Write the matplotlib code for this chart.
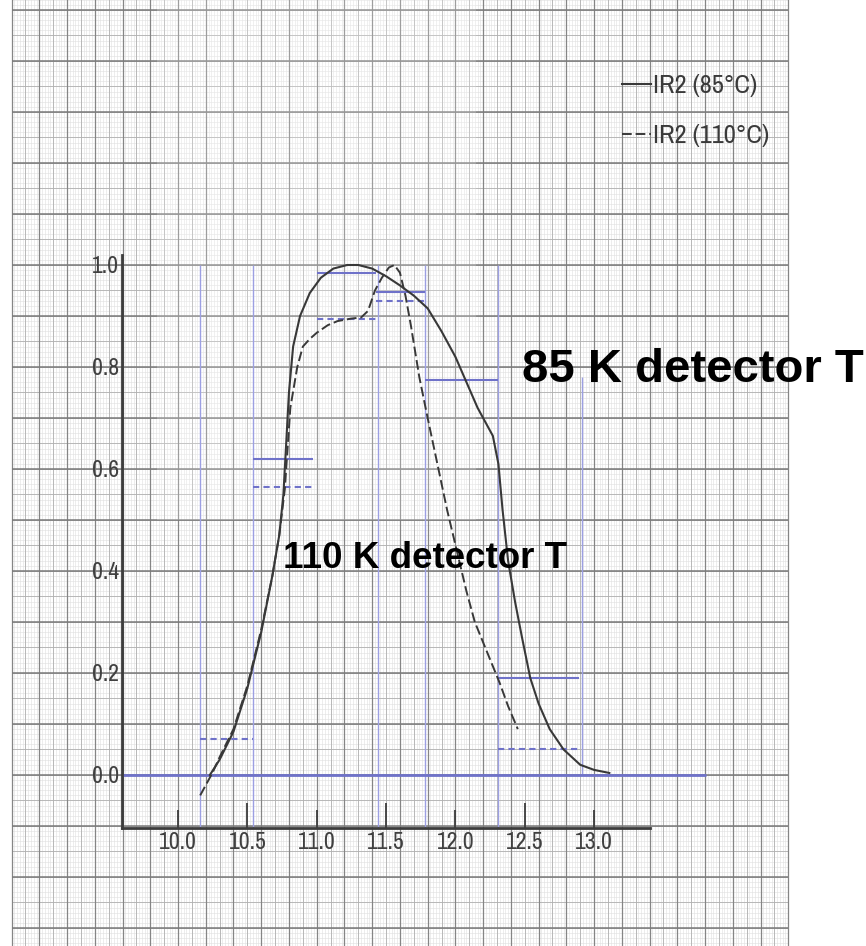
import matplotlib
matplotlib.use("Agg")
import matplotlib.pyplot as plt
import numpy as np
from matplotlib import font_manager
from matplotlib.font_manager import FontProperties
from matplotlib.patches import Rectangle

# ---------------- data ----------------
solid_x = [10.23, 10.30, 10.40, 10.50, 10.60, 10.68, 10.73, 10.76, 10.78, 10.80,
           10.83, 10.88, 10.95, 11.03, 11.12, 11.22, 11.30, 11.40, 11.50, 11.60,
           11.70, 11.80, 11.90, 12.00, 12.08, 12.16, 12.22, 12.27, 12.31, 12.34,
           12.38, 12.43, 12.48, 12.54, 12.60, 12.68, 12.78, 12.90, 13.00, 13.11]
solid_y = [0.00, 0.03, 0.085, 0.17, 0.28, 0.39, 0.47, 0.55, 0.65, 0.75,
           0.84, 0.90, 0.945, 0.975, 0.993, 1.0, 1.0, 0.993, 0.978, 0.96,
           0.94, 0.915, 0.87, 0.82, 0.77, 0.72, 0.69, 0.665, 0.61, 0.52,
           0.42, 0.34, 0.27, 0.19, 0.14, 0.09, 0.05, 0.02, 0.01, 0.004]

dashed_x = [10.16, 10.20, 10.25, 10.30, 10.40, 10.50, 10.60, 10.68, 10.73, 10.77,
            10.79, 10.81, 10.86, 10.90, 10.95, 11.00, 11.08, 11.15, 11.25, 11.32,
            11.37, 11.42, 11.47, 11.52, 11.56, 11.60, 11.64, 11.68, 11.74, 11.80,
            11.87, 11.94, 12.01, 12.08, 12.14, 12.20, 12.26, 12.32, 12.38, 12.45]
dashed_y = [-0.04, -0.02, 0.005, 0.035, 0.09, 0.175, 0.285, 0.39, 0.47, 0.56,
            0.64, 0.72, 0.80, 0.84, 0.855, 0.867, 0.882, 0.89, 0.895, 0.897,
            0.91, 0.95, 0.975, 0.995, 1.0, 0.985, 0.94, 0.88, 0.78, 0.70,
            0.61, 0.52, 0.44, 0.36, 0.30, 0.26, 0.22, 0.18, 0.135, 0.09]

band_left = [10.16, 10.54, 11.00, 11.43, 11.78, 12.31]
band_right = [10.54, 10.97, 11.43, 11.78, 12.31, 12.89]
band_solid = [np.nan, 0.62, 0.985, 0.947, 0.775, 0.19]
band_dashed = [0.07, 0.565, 0.895, 0.93, np.nan, 0.05]
band_edges = [10.16, 10.54, 11.44, 11.78, 12.31]

xtick_major = [10.5, 11.5, 12.5]
xtick_major_labels = ["10.5", "11.5", "12.5"]
xtick_minor = [10.0, 11.0, 12.0, 13.0]
xtick_minor_labels = ["10.0", "11.0", "12.0", "13.0"]
ytick_vals = [0.0, 0.2, 0.4, 0.6, 0.8, 1.0]
ytick_labels = ["0.0", "0.2", "0.4", "0.6", "0.8", "1.0"]

legend_labels = ["IR2 (85°C)", "IR2 (110°C)"]
note_85 = "85 K detector T"
note_110 = "110 K detector T"

# ---------------- fonts ----------------
narrow_path = None
for pref in ["Narrow", "Condensed"]:
    for f in font_manager.fontManager.ttflist:
        fn = f.fname
        if pref in fn and f.style == "normal" and f.weight in (400, "normal", "regular") \
                and "Bold" not in fn and "Oblique" not in fn and "Italic" not in fn:
            narrow_path = fn
            break
    if narrow_path:
        break


def hand_font(size):
    if narrow_path:
        return FontProperties(fname=narrow_path, size=size)
    return FontProperties(family="DejaVu Sans", size=size * 0.85)


# ---------------- figure ----------------
fig = plt.figure(figsize=(8.66, 9.46), dpi=100)
ax = fig.add_axes([0, 0, 1, 1])
ax.set_xlim(8.7167, 14.9604)
ax.set_ylim(-0.3353, 1.5196)
ax.set_facecolor("white")

# graph paper
gx0, gx1 = 8.80, 14.40
ylo, yhi = -0.34, 1.53
ax.vlines(np.arange(gx0, gx1 + 1e-6, 0.02), ylo, yhi, color="#e0e0e0", lw=0.4, zorder=0.3)
ax.hlines(np.arange(-0.34, 1.53, 0.01), gx0, gx1, color="#e0e0e0", lw=0.4, zorder=0.3)
ax.vlines(np.arange(gx0, gx1 + 1e-6, 0.1), ylo, yhi, color="#b0b0b0", lw=0.6, zorder=0.4)
ax.hlines(np.arange(-0.30, 1.53, 0.05), gx0, gx1, color="#b0b0b0", lw=0.6, zorder=0.4)
ax.vlines(np.arange(gx0, gx1 + 1e-6, 0.2), ylo, yhi, color="#858585", lw=0.9, zorder=0.5)
ax.hlines(np.arange(-0.30, 1.53, 0.1), gx0, gx1, color="#7a7a7a", lw=1.1, zorder=0.5)

# faded scan area
ax.add_patch(Rectangle((9.85, 0.5), 2.3, 1.05, facecolor="white", alpha=0.2,
                       edgecolor="none", zorder=0.8))

# blue construction lines
blue = "#6f72c9"
ax.vlines(band_edges, -0.103, 1.0, color="#9c9fe2", lw=1.0, zorder=1)
ax.vlines([12.91], 0.0, 0.78, color="#9c9fe2", lw=1.0, zorder=1)
ax.hlines([0.0], 9.596, 13.81, color=blue, lw=2.0, zorder=1.1)
ax.hlines(band_solid, band_left, band_right, color=blue, lw=1.5, zorder=1.2)
ax.hlines(band_dashed, band_left, band_right, color=blue, lw=1.5,
          linestyles=(0, (3, 2)), zorder=1.2)

# curves
l1, = ax.plot(solid_x, solid_y, color="#383838", lw=1.5, zorder=3)
l2, = ax.plot(dashed_x, dashed_y, color="#383838", lw=1.4, ls=(0, (5, 2)), zorder=3)

# axes
for s in ["top", "right"]:
    ax.spines[s].set_visible(False)
ax.spines["left"].set_position(("data", 9.596))
ax.spines["left"].set_bounds(-0.103, 1.02)
ax.spines["bottom"].set_position(("data", -0.103))
ax.spines["bottom"].set_bounds(9.596, 13.40)
for s in ["left", "bottom"]:
    ax.spines[s].set_color("#3c3c3c")
    ax.spines[s].set_linewidth(2.0)

ax.set_xticks(xtick_major, labels=xtick_major_labels)
ax.set_xticks(xtick_minor, labels=xtick_minor_labels, minor=True)
ax.tick_params(axis="x", which="major", direction="in", length=18, width=1.3,
               color="#3c3c3c", pad=3, labelcolor="#404040")
ax.tick_params(axis="x", which="minor", direction="in", length=13, width=1.3,
               color="#3c3c3c", pad=3, labelcolor="#404040")
ax.set_yticks(ytick_vals, labels=ytick_labels)
ax.tick_params(axis="y", length=0, pad=2, labelcolor="#404040")
for lab in ax.get_xticklabels(which="both") + ax.get_yticklabels():
    lab.set_fontproperties(hand_font(17))

# legend
ax.legend([l1, l2], legend_labels, loc="upper left", bbox_to_anchor=(0.718, 0.922),
          bbox_transform=fig.transFigure, frameon=False, borderpad=0, borderaxespad=0,
          handlelength=1.1, handletextpad=0.1, labelspacing=1.05,
          prop=hand_font(19), labelcolor="#3a3a3a")

# annotations
ax.text(12.480, 0.7706, note_85, fontsize=34, fontweight="bold",
        family=["Liberation Sans", "DejaVu Sans"], ha="left", va="baseline",
        color="black", zorder=5)
ax.text(10.757, 0.406, note_110, fontsize=26.5, fontweight="bold",
        family=["Liberation Sans", "DejaVu Sans"], ha="left", va="baseline",
        color="black", zorder=5)

fig.savefig("out.png", dpi=100)
